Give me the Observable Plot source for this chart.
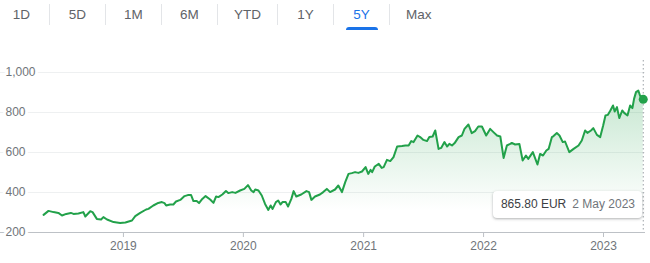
<!DOCTYPE html>
<html>
<head>
<meta charset="utf-8">
<script src="https://cdn.jsdelivr.net/npm/d3@7"></script>
<script src="https://cdn.jsdelivr.net/npm/@observablehq/plot@0.6"></script>
<style>
  html, body { margin: 0; padding: 0; background: #fff; }
  body { width: 650px; height: 263px; position: relative; overflow: hidden; font-family: Arial, "Liberation Sans", sans-serif; }
  #tabs { height: 40px; display: flex; align-items: flex-start; }
  #tabs .tab { position: relative; height: 21px; margin-top: 4px; line-height: 21px; padding: 0 16px; min-width: 23px; text-align: center; font-size: 13.5px; color: #5f6368; border-left: 1px solid #e3e5e8; }
  #tabs .tab:first-child { border-left: none; padding-left: 10px; }
  #tabs .tab.active { color: #1a73e8; }
  #tabs .tab.active::after { content: ""; position: absolute; left: 50%; transform: translateX(-50%); top: 23px; width: 32px; height: 3px; background: #1a73e8; border-radius: 3px 3px 0 0; }
  #chart { position: absolute; left: 0; top: 40px; }
  #tip { position: absolute; right: 8px; top: 191px; height: 27px; line-height: 27px; padding: 0 7px 0 8px; background: #fff; border-radius: 4px; box-shadow: 0 1px 3px rgba(60,64,67,0.3), 0 1px 2px rgba(60,64,67,0.12); font-size: 12px; white-space: nowrap; }
  #tip .v { color: #3c4043; }
  #tip .d { color: #70757a; margin-left: 6px; }
</style>
</head>
<body>
<div id="tabs"></div>
<div id="chart"></div>
<div id="tip"></div>
<script>
const tabLabels = ["1D", "5D", "1M", "6M", "YTD", "1Y", "5Y", "Max"];
const activeTab = "5Y";
const currency = "EUR";

const dates = [
  "2018-05-03","2018-05-18","2018-06-02","2018-06-17","2018-06-28","2018-07-11","2018-07-25","2018-08-02",
  "2018-08-17","2018-09-01","2018-09-07","2018-09-22","2018-09-29","2018-10-12","2018-10-25","2018-11-01",
  "2018-11-12","2018-12-02","2018-12-22","2019-01-07","2019-01-17","2019-01-27","2019-02-06","2019-02-21",
  "2019-03-11","2019-03-18","2019-04-02","2019-04-17","2019-04-28","2019-05-06","2019-05-11","2019-05-23",
  "2019-06-02","2019-06-10","2019-06-23","2019-07-06","2019-07-16","2019-07-26","2019-08-02","2019-08-12",
  "2019-08-19","2019-08-29","2019-09-08","2019-09-22","2019-10-02","2019-10-10","2019-10-17","2019-10-29",
  "2019-11-09","2019-11-16","2019-11-28","2019-12-08","2019-12-22","2020-01-04","2020-01-15","2020-01-25",
  "2020-02-01","2020-02-06","2020-02-16","2020-02-26","2020-03-07","2020-03-17","2020-03-24","2020-03-30",
  "2020-04-09","2020-04-16","2020-04-23","2020-04-29","2020-05-09","2020-05-16","2020-05-26","2020-06-02",
  "2020-06-10","2020-06-25","2020-07-11","2020-07-19","2020-07-26","2020-08-06","2020-08-21","2020-08-31",
  "2020-09-11","2020-09-21","2020-10-06","2020-10-16","2020-10-27","2020-11-06","2020-11-16","2020-11-26",
  "2020-12-06","2020-12-16","2020-12-27","2021-01-07","2021-01-15","2021-01-22","2021-01-27","2021-02-04",
  "2021-02-16","2021-02-25","2021-03-03","2021-03-13","2021-03-23","2021-04-02","2021-04-13","2021-04-28",
  "2021-05-08","2021-05-18","2021-05-26","2021-06-02","2021-06-14","2021-06-22","2021-07-02","2021-07-13",
  "2021-07-20","2021-07-30","2021-08-07","2021-08-17","2021-08-25","2021-09-04","2021-09-12","2021-09-19",
  "2021-09-27","2021-10-05","2021-10-17","2021-10-27","2021-11-04","2021-11-16","2021-11-26","2021-12-06",
  "2021-12-16","2021-12-27","2022-01-09","2022-01-21","2022-01-31","2022-02-11","2022-02-21","2022-03-03",
  "2022-03-13","2022-03-23","2022-03-28","2022-04-07","2022-04-20","2022-04-30","2022-05-10","2022-05-17",
  "2022-05-31","2022-06-14","2022-06-22","2022-07-01","2022-07-11","2022-07-18","2022-07-28","2022-08-02",
  "2022-08-12","2022-08-20","2022-08-30","2022-09-06","2022-09-19","2022-10-02","2022-10-17","2022-10-27",
  "2022-11-06","2022-11-13","2022-11-24","2022-12-01","2022-12-12","2022-12-22","2022-12-31","2023-01-07",
  "2023-01-14","2023-01-22","2023-01-30","2023-02-04","2023-02-11","2023-02-18","2023-02-27","2023-03-05",
  "2023-03-15","2023-03-23","2023-03-30","2023-04-04","2023-04-10","2023-04-17","2023-04-22","2023-05-02"
];
const prices = [
  288,308,302,298,285,293,298,293,
  295,302,280,306,302,268,265,277,
  265,252,248,250,255,260,282,298,
  315,318,335,348,352,347,335,340,
  340,355,363,382,387,387,357,357,
  347,368,382,365,348,380,377,390,
  407,397,402,398,410,418,437,410,
  402,415,410,385,343,313,335,318,
  352,360,340,352,352,330,368,407,
  380,390,407,402,363,380,390,402,
  418,402,415,435,402,452,493,497,
  502,498,505,527,493,513,502,530,
  543,523,527,563,557,577,630,632,
  635,635,657,652,685,677,663,657,
  677,680,710,618,623,652,630,643,
  635,647,677,685,718,740,697,707,
  730,730,685,718,702,685,680,573,
  635,643,648,640,643,560,585,568,
  602,540,593,585,610,618,677,682,
  697,685,652,655,602,618,635,660,
  710,698,710,722,688,677,735,785,
  788,810,835,805,827,772,810,798,
  785,835,822,868,902,910,885,865.80
];
const yTicks = [200, 400, 600, 800, 1000];
const xTickYears = [2019, 2020, 2021, 2022, 2023];
const xDomainYears = [2018, 2023];

const green = "#22a14a";
const data = dates.map((d, i) => ({date: new Date(d + "T00:00:00Z"), price: prices[i]}));
const last = data[data.length - 1];

// Tabs
const tabs = document.getElementById("tabs");
for (const t of tabLabels) {
  const el = document.createElement("div");
  el.className = "tab" + (t === activeTab ? " active" : "");
  el.textContent = t;
  tabs.appendChild(el);
}

// Tooltip
document.getElementById("tip").innerHTML =
  `<span class="v">${d3.format(".2f")(last.price)} ${currency}</span><span class="d">${d3.utcFormat("%-d %B %Y")(last.date)}</span>`;

const defs = () => {
  const g = d3.create("svg:defs");
  const lg = g.append("linearGradient").attr("id", "fillGrad")
    .attr("x1", 0).attr("y1", 0).attr("x2", 0).attr("y2", 1);
  lg.append("stop").attr("offset", "0%").attr("stop-color", green).attr("stop-opacity", 0.26);
  lg.append("stop").attr("offset", "85%").attr("stop-color", green).attr("stop-opacity", 0);
  return g.node();
};

const chart = Plot.plot({
  width: 650,
  height: 223,
  marginTop: 32,
  marginBottom: 31,
  marginLeft: 0,
  marginRight: 5,
  style: {fontFamily: "Arial, 'Liberation Sans', sans-serif", fontSize: "12px", background: "transparent", overflow: "visible"},
  x: {type: "utc", domain: xDomainYears.map(y => new Date(Date.UTC(y, 0, 1))), range: [3, 603], axis: null},
  y: {domain: [yTicks[0], yTicks[yTicks.length - 1]], axis: null},
  marks: [
    defs,
    Plot.ruleY(yTicks.slice(1), {stroke: "#eef0f1", strokeWidth: 1}),
    Plot.areaY(data, {x: "date", y1: yTicks[0], y2: "price", fill: "url(#fillGrad)"}),
    Plot.ruleY([yTicks[0]], {stroke: "#bdc1c6", strokeWidth: 1}),
    Plot.axisX(xTickYears.map(y => new Date(Date.UTC(y, 0, 1))), {tickFormat: "%Y", tickSize: 5, tickPadding: 4, stroke: "#bdc1c6", fill: "#70757a", fontSize: 12, label: null}),
    Plot.line(data, {x: "date", y: "price", stroke: green, strokeWidth: 2, strokeLinejoin: "round", strokeLinecap: "round"}),
    Plot.ruleX([last], {x: "date", stroke: "#9aa0a6", strokeWidth: 1, strokeDasharray: "1.5,2.5", insetTop: -12}),
    Plot.dot([last], {x: "date", y: "price", r: 4.5, fill: green, stroke: "none"}),
    Plot.text(yTicks, {y: d => d, text: d => d3.format(",")(d), frameAnchor: "left", textAnchor: "start", dx: 5, fill: "#70757a", stroke: "white", strokeWidth: 6, fontSize: 12})
  ]
});
document.getElementById("chart").appendChild(chart);
</script>
</body>
</html>
